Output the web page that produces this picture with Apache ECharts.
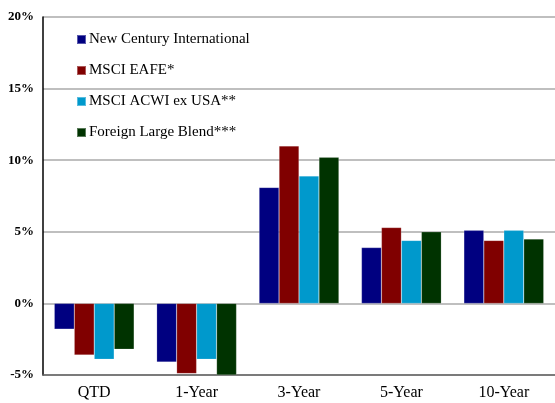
<!DOCTYPE html>
<html><head><meta charset="utf-8">
<script src="https://cdn.jsdelivr.net/npm/echarts@6/dist/echarts.min.js"></script>
<style>html,body{margin:0;padding:0;background:#fff}#c{width:555px;height:403px}</style>
</head><body><div id="c"></div>
<script>
const categories = ['QTD', '1-Year', '3-Year', '5-Year', '10-Year'];
const seriesNames = ['New Century International', 'MSCI EAFE*', 'MSCI ACWI ex USA**', 'Foreign Large Blend***'];
const newCentury = [-1.8, -4.1, 8.1, 3.9, 5.1];
const msciEafe = [-3.6, -4.9, 11.0, 5.3, 4.4];
const msciAcwi = [-3.9, -3.9, 8.9, 4.4, 5.1];
const foreignLargeBlend = [-3.2, -5.0, 10.2, 5.0, 4.5];
const yTicks = [-5, 0, 5, 10, 15, 20];
const colors = ['#000080', '#800000', '#0099CC', '#003300'];
const allData = [newCentury, msciEafe, msciAcwi, foreignLargeBlend];
const font = 'Liberation Serif';

const chart = echarts.init(document.getElementById('c'));
chart.setOption({
  animation: false,
  color: colors,
  grid: { left: 43, right: 0, top: 17, bottom: 28, containLabel: false },
  legend: {
    orient: 'vertical', left: 71, top: 27, itemGap: 16,
    itemWidth: 9, itemHeight: 9, icon: 'rect',
    textStyle: { fontFamily: font, fontSize: 15, color: '#000', padding: [0, 0, 0, -2] },
    data: seriesNames
  },
  xAxis: {
    type: 'category', data: categories,
    axisLine: { onZero: false, lineStyle: { color: '#666', width: 1.5 } },
    axisTick: { show: false },
    axisLabel: { fontFamily: font, fontSize: 16, color: '#000', margin: 10 }
  },
  yAxis: {
    type: 'value', min: yTicks[0], max: yTicks[yTicks.length - 1], interval: 5,
    axisLine: { show: true, lineStyle: { color: '#000', width: 1.5 } },
    axisTick: { show: false },
    splitLine: { lineStyle: { color: '#aaa', width: 1.5 } },
    axisLabel: { fontFamily: font, fontSize: 13, fontWeight: 'bold', color: '#000', margin: 9,
      formatter: v => v + '%' }
  },
  series: seriesNames.map((n, i) => ({
    name: n, type: 'bar', data: allData[i],
    barGap: '0%', barCategoryGap: '22%',
    itemStyle: { color: colors[i], borderColor: 'rgba(255,255,255,0.35)', borderWidth: 0.5 }
  }))
});
</script></body></html>
